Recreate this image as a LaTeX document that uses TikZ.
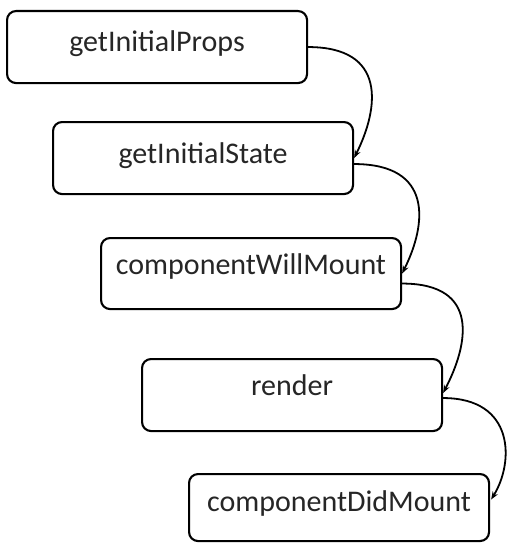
\documentclass[tikz,border=0pt]{standalone}
\usepackage{fontspec}
\setmainfont{Carlito}
\usetikzlibrary{calc,arrows.meta}
\begin{document}
\begin{tikzpicture}[x=1pt,y=-1pt,
  box/.style={draw, line width=2.1pt, rounded corners=9pt, minimum width=300pt,
    inner sep=0pt, anchor=north west, text=black!85, font=\fontsize{30}{36}\selectfont},
  flow/.style={line width=1.8pt, -{Stealth[length=8pt,width=6pt]}}]
\useasboundingbox (0,0) rectangle (506,543);
\node[box, text height=40pt, text depth=32pt] (a) at (6,10) {getInitialProps};
\node[box, text height=41pt, text depth=31pt] (b) at (52,121) {getInitialState};
\node[box, text height=36pt, text depth=35pt] (c) at (100,237) {componentWillMount};
\node[box, text height=36pt, text depth=36pt] (d) at (141,358) {render};
\node[box, text height=37pt, text depth=30pt] (e) at (188,473) {componentDidMount};
\draw[flow] (a.east) .. controls ($(a.east)+(79,0)$) and ($(b.east)+(25,-50)$) .. (b.east);
\draw[flow] ($(b.east)+(0,6)$) .. controls ($(b.east)+(79,6)$) and ($(c.east)+(25,-50)$) .. (c.east);
\draw[flow] ($(c.east)+(0,10)$) .. controls ($(c.east)+(79,10)$) and ($(d.east)+(25,-50)$) .. ($(d.east)+(0,-2)$);
\draw[flow] ($(d.east)+(0,3)$) .. controls ($(d.east)+(72,3)$) and ($(e.east)+(24,-45)$) .. ($(e.east)+(1,-8)$);
\end{tikzpicture}
\end{document}
